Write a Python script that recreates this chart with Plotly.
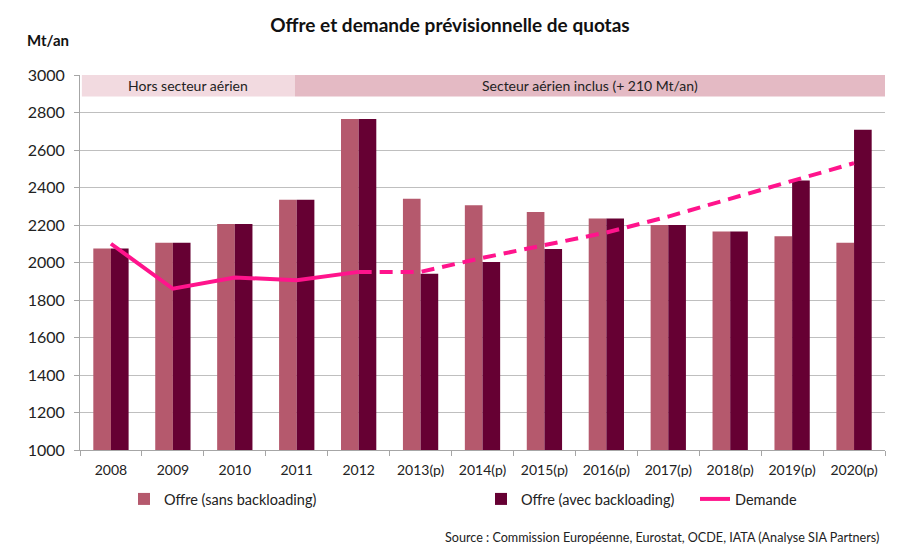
import plotly.graph_objects as go

years = ["2008", "2009", "2010", "2011", "2012", "2013(p)", "2014(p)",
         "2015(p)", "2016(p)", "2017(p)", "2018(p)", "2019(p)", "2020(p)"]
offre_sans = [2075, 2105, 2205, 2335, 2765, 2340, 2305, 2270, 2235, 2200, 2165, 2140, 2105]
offre_avec = [2075, 2105, 2205, 2335, 2765, 1940, 2003, 2072, 2235, 2200, 2165, 2438, 2708]
demande = [2100, 1860, 1920, 1905, 1950, 1950, 2025, 2090, 2160, 2245, 2340, 2440, 2530]
n_hist = 5  # 2008..2012 observed (solid), then projection (dashed)

y_ticks = [1000, 1200, 1400, 1600, 1800, 2000, 2200, 2400, 2600, 2800, 3000]
band_labels = ["Hors secteur aérien", "Secteur aérien inclus (+ 210 Mt/an)"]

FONT = "Lato"
C_LIGHT = "#B5596D"
C_DARK = "#660033"
C_LINE = "#FF148C"
GRID = "#BFBFBF"
AXIS = "#A6A6A6"

# page body has an 8px margin: the figure is sized to fill the rest
OFF = 8
W, H = 900 - OFF, 560 - OFF
PL, PR, PT, PB = 80, 885, 75, 450  # plot area in window pixels
PW, PH = PR - PL, PB - PT

xs = list(range(len(years)))

fig = go.Figure()
fig.add_trace(go.Bar(x=xs, y=offre_sans, name="Offre (sans backloading)",
                     marker=dict(color=C_LIGHT, line=dict(width=0)),
                     legend="legend"))
fig.add_trace(go.Bar(x=xs, y=offre_avec, name="Offre (avec backloading)",
                     marker=dict(color=C_DARK, line=dict(width=0)),
                     legend="legend2"))
fig.add_trace(go.Scatter(x=xs[:n_hist], y=demande[:n_hist], mode="lines",
                         name="Demande", line=dict(color=C_LINE, width=4),
                         legend="legend3"))
fig.add_trace(go.Scatter(x=xs[n_hist - 1:], y=demande[n_hist - 1:], mode="lines",
                         name="Demande", showlegend=False,
                         line=dict(color=C_LINE, width=4, dash="13px,8px")))

# Bands at top
fig.add_shape(type="rect", xref="x", yref="y", x0=-0.47, x1=2.97, y0=2885, y1=3000,
              fillcolor="#F2DAE0", line=dict(width=0))
fig.add_shape(type="rect", xref="x", yref="y", x0=2.97, x1=12.5, y0=2885, y1=3000,
              fillcolor="#E4BAC4", line=dict(width=0))
fig.add_annotation(x=(-0.47 + 2.97) / 2, y=2942, xref="x", yref="y", text=band_labels[0],
                   showarrow=False, font=dict(family=FONT, size=14, color="#222222"))
fig.add_annotation(x=(2.97 + 12.5) / 2, y=2942, xref="x", yref="y", text=band_labels[1],
                   showarrow=False, font=dict(family=FONT, size=14, color="#222222"))

legend_common = dict(orientation="h", yanchor="middle", xanchor="left", y=(PB - 499) / PH,
                     bgcolor="rgba(0,0,0,0)", font=dict(family=FONT, size=14.5, color="#222222"),
                     itemwidth=30, tracegroupgap=0)

fig.update_layout(
    width=W, height=H,
    paper_bgcolor="white", plot_bgcolor="white",
    margin=dict(l=PL - OFF, r=W - (PR - OFF), t=PT - OFF, b=H - (PB - OFF)),
    barmode="group", bargap=0.43, bargroupgap=0,
    font=dict(family=FONT, size=15, color="#222222"),
    title=dict(text="<b>Offre et demande prévisionnelle de quotas</b>", x=(450 - OFF) / W, xanchor="center",
               y=1 - (25 - OFF) / H, yanchor="middle", font=dict(family=FONT, size=19, color="#111111")),
    legend=dict(x=(124 - PL) / PW, **legend_common),
    legend2=dict(x=(481 - PL) / PW, **legend_common),
    legend3=dict(x=(695 - PL) / PW, **legend_common),
    showlegend=True,
)
fig.update_xaxes(range=[-0.5, 12.5], tickvals=xs, ticktext=years, ticks="",
                 showgrid=False, zeroline=False, showline=True, linecolor=AXIS, linewidth=1,
                 ticklabelstandoff=7,
                 tickfont=dict(family=FONT, size=14, color="#222222"),
                 minor=dict(tick0=-0.5, dtick=1, ticks="outside", ticklen=5, tickcolor=AXIS, showgrid=False))
fig.update_yaxes(range=[1000, 3000], tickvals=y_ticks, ticks="outside", ticklen=5, tickcolor=AXIS,
                 showgrid=True, gridcolor=GRID, gridwidth=1, zeroline=False,
                 showline=True, linecolor=AXIS, linewidth=1, ticklabelstandoff=6,
                 tickfont=dict(family=FONT, size=16, color="#222222"))

fig.add_annotation(x=(48 - PL) / PW, xanchor="center", y=(PB - 40) / PH, yanchor="middle",
                   xref="paper", yref="paper", text="<b>Mt/an</b>", showarrow=False,
                   font=dict(family=FONT, size=15, color="#111111"))
fig.add_annotation(x=(881 - PL) / PW, xanchor="right", y=(PB - 537) / PH, yanchor="middle",
                   xref="paper", yref="paper",
                   text="Source : Commission Européenne, Eurostat, OCDE, IATA (Analyse SIA Partners)",
                   showarrow=False, font=dict(family=FONT, size=12.6, color="#222222"))

fig.write_html("out.html")
